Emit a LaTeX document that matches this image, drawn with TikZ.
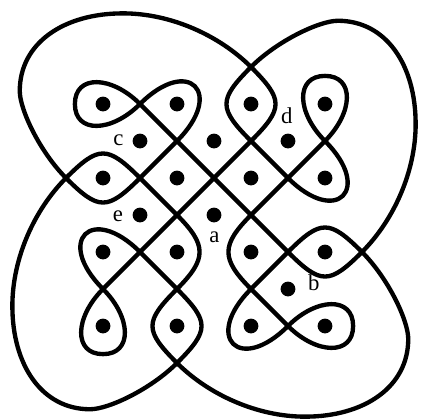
\documentclass[tikz,border=0pt]{standalone}
\usepackage{fontspec}
\setmainfont{Liberation Serif}
\definecolor{ink}{RGB}{0,0,0}
\tikzset{
    line cap=round,
    line join=round,
    knot/.style={
        draw=ink,
        line width=2pt
    },
    dot/.style={
        circle,
        fill=ink,
        inner sep=0pt,
        minimum size=0.24cm
    },
    dotlabel/.style={
        font=\fontsize{10.5}{12}\selectfont,
        text=ink,
        inner sep=0pt
    }
}

\begin{document}
\begin{tikzpicture}[x=0.6cm, y=0.6cm]
\useasboundingbox (-2.784,2.811) rectangle (8.595,-8.514);

% Border: lobe, eye and corner loops, turned four times
\foreach \r in {0,-90,-180,-270}{
  \begin{scope}[rotate around={\r:(3,-3)}]
    \draw[knot] (4,1) .. controls +(135:1.2) and +(0:1.3) .. (0.54,2.45)
        .. controls +(180:1.6) and +(90:1.3) .. (-2.25,0.35)
        .. controls +(-90:0.5) and +(135:1.0) .. (-1,-2);
    \draw[knot] (4,1) .. controls +(-135:1.25) and +(135:1.25) .. (4,-1);
    \draw[knot] (4,1) .. controls +(-45:1.25) and +(45:1.25) .. (4,-1);
    \draw[knot] (2,-1) .. controls +(45:1.85) and +(45:1.85) .. (1,0)
        .. controls +(-135:1.1) and +(-90:0.8) .. (-0.76,0)
        .. controls +(90:0.8) and +(135:1.1) .. (1,0);
  \end{scope}
}

% Inner weave
\draw[knot] (1,0) -- (5,-4);
\draw[knot] (0,-5) -- (4,-1);
\draw[knot] (4,-1) -- (5,-2);
\draw[knot] (6,-1) -- (4,-3);
\draw[knot] (4,-5) -- (5,-6);
\draw[knot] (4,-5) -- (5,-4);
\draw[knot] (1,-2) -- (2,-3);
\draw[knot] (1,-4) -- (2,-5);
\draw[knot] (1,-2) -- (2,-1);

% Turn beside a
\draw[knot] (2,-3) .. controls +(-45:1.15) and +(45:1.15) .. (2,-5);
\draw[knot] (4,-3) .. controls +(-135:1.15) and +(135:1.15) .. (4,-5);

% Dots
\foreach \i in {0,2,4,6}
  \foreach \j in {0,2,4,6}
    \node[dot] (p\i\j) at (\i,-\j) {};
\foreach \i/\j in {1/1,3/1,5/1,1/3,3/3,5/5}
  \node[dot] (p\i\j) at (\i,-\j) {};

% Labels
\node[dotlabel] (la) at (3.01,-3.61) {a};
\node[dotlabel] (lb) at (5.70,-4.84) {b};
\node[dotlabel] (lc) at (0.42,-0.97) {c};
\node[dotlabel] (ld) at (4.97,-0.31) {d};
\node[dotlabel] (le) at (0.40,-3.04) {e};

\end{tikzpicture}
\end{document}
